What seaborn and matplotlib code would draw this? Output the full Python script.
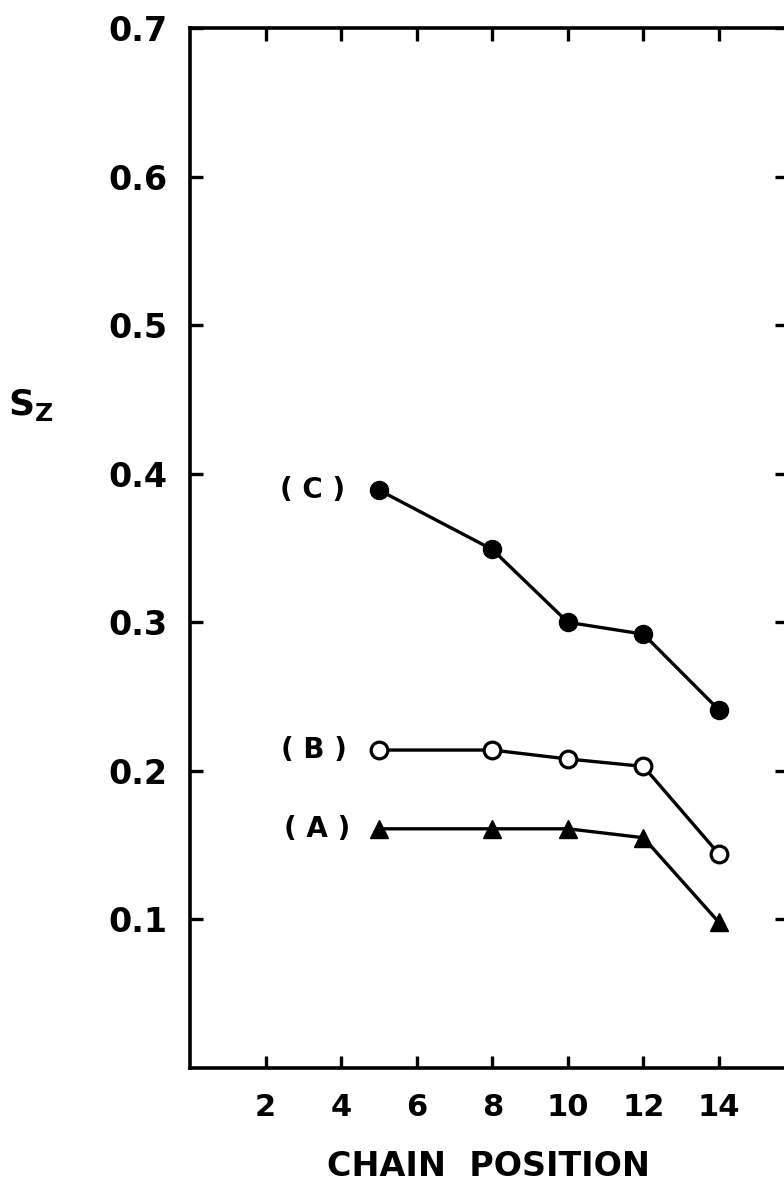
import matplotlib
matplotlib.use("Agg")
import matplotlib.pyplot as plt
import seaborn as sns
import pandas as pd

# Order parameter S_Z along the acyl chain for three samples
positions = [5, 8, 10, 12, 14]
s_c = [0.389, 0.349, 0.300, 0.292, 0.241]
s_b = [0.214, 0.214, 0.208, 0.203, 0.144]
s_a = [0.161, 0.161, 0.161, 0.155, 0.098]

series_labels = ["( C )", "( B )", "( A )"]
x_ticks = [2, 4, 6, 8, 10, 12, 14]
x_tick_labels = ["2", "4", "6", "8", "10", "12", "14"]
y_ticks = [0.1, 0.2, 0.3, 0.4, 0.5, 0.6, 0.7]
y_tick_labels = ["0.1", "0.2", "0.3", "0.4", "0.5", "0.6", "0.7"]

sns.set_style("ticks")
plt.rcParams["font.family"] = ["DejaVu Sans"]
plt.rcParams["text.color"] = "black"
plt.rcParams["xtick.color"] = "black"
plt.rcParams["ytick.color"] = "black"
plt.rcParams["axes.labelcolor"] = "black"

fig = plt.figure(figsize=(7.84, 11.86), dpi=100)
# the right-hand frame edge sits just past the right border of the figure
ax = fig.add_axes([190 / 784, 1 - 1068 / 1186, 597 / 784, (1068 - 28) / 1186])

styles = [
    dict(marker="o", markersize=13, markerfacecolor="black", markeredgecolor="black", markeredgewidth=1),
    dict(marker="o", markersize=12, markerfacecolor="white", markeredgecolor="black", markeredgewidth=2.3),
    dict(marker="^", markersize=12.5, markerfacecolor="black", markeredgecolor="black", markeredgewidth=1),
]

for vals, st in zip([s_c, s_b, s_a], styles):
    df = pd.DataFrame({"pos": positions, "sz": vals})
    sns.lineplot(data=df, x="pos", y="sz", ax=ax, color="black", linewidth=2.4, **st)

# Curve labels to the left of the first point of each series
for vals, lab, off in zip([s_c, s_b, s_a], series_labels, [-24, -23, -21]):
    ax.annotate(lab, xy=(positions[0], vals[0]), xytext=(off, 0),
                textcoords="offset points", ha="right", va="center",
                fontsize=20, fontweight="bold", color="black")

ax.set_xlim(0, 15.8)
ax.set_ylim(0, 0.7)
ax.set_xticks(x_ticks)
ax.set_xticklabels(x_tick_labels, fontweight="bold")
ax.set_yticks(y_ticks)
ax.set_yticklabels(y_tick_labels, fontweight="bold")

ax.tick_params(axis="both", which="major", direction="in", length=9, width=2.4,
               color="black", labelcolor="black", top=True, right=True)
ax.tick_params(axis="y", labelsize=24, pad=16)
ax.tick_params(axis="x", labelsize=22, pad=18)

for sp in ax.spines.values():
    sp.set_linewidth(2.6)
    sp.set_color("black")

ax.set_xlabel("CHAIN  POSITION", fontsize=24, fontweight="bold", labelpad=20)
ax.set_ylabel("")
fig.text(31 / 784, 1 - 405 / 1186, r"$\mathbf{S_Z}$", fontsize=26,
         ha="center", va="center", color="black")

fig.savefig("out.png", dpi=100, facecolor="white")
